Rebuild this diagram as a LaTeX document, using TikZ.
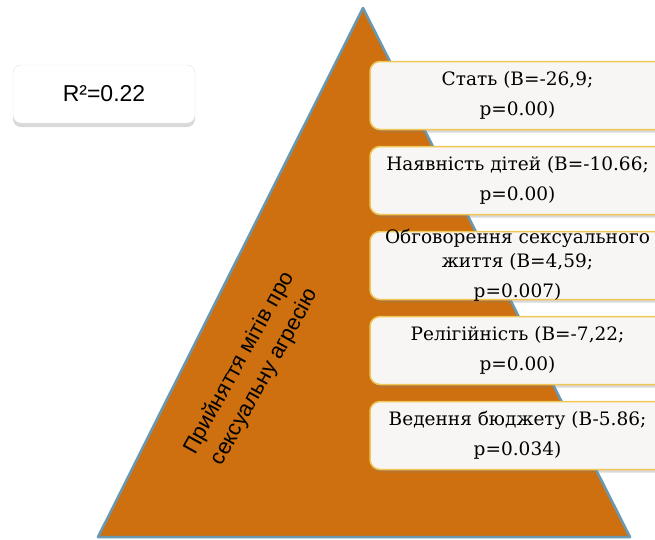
\documentclass[tikz,border=0pt]{standalone}
\usepackage{fontspec}
\setmainfont{DejaVu Serif}
\newfontfamily\arialfont{Liberation Sans}
\usetikzlibrary{positioning, shadows}
\definecolor{pyramidorange}{RGB}{206,112,16}
\definecolor{pyramidedge}{RGB}{104,152,178}
\definecolor{boxgold}{RGB}{240,198,84}
\definecolor{boxfill}{RGB}{247,246,244}

\begin{document}
\begin{tikzpicture}[x = 1pt, y = -1pt,
		pyramid/.style = {fill = pyramidorange, draw = pyramidedge, line width = 2.5pt, line join = round},
		infobox/.style = {draw = boxgold, line width = 1.5pt, fill = boxfill, rounded corners = 10pt, minimum width = 295pt, minimum height = 68pt, drop shadow = {shadow xshift = 1pt, shadow yshift = -3pt, opacity = 0.3}, align = center, font = \fontsize{18.5}{30}\selectfont},
		rsquare/.style = {draw = black!10, fill = white, rounded corners = 8pt, minimum width = 182pt, minimum height = 58pt, drop shadow = {shadow xshift = 0pt, shadow yshift = -4pt, opacity = 0.3}, font = \arialfont\fontsize{23}{27}\selectfont},
		sidetext/.style = {rotate = 61, align = center, font = \arialfont\fontsize{22}{29}\selectfont},
		node distance = 15.5pt]
		\useasboundingbox (0, 0) rectangle (655, 539);
		\clip (0, 0) rectangle (655, 539);
		\coordinate (apex) at (363, 8);
		\coordinate (baseright) at (630, 537);
		\coordinate (baseleft) at (98, 537);
		\filldraw[pyramid] (apex) -- (baseright) -- (baseleft) -- cycle;
		\node[rsquare] (rsq) at (104, 94) {R²=0.22};
		\node[sidetext] (myths) at (252, 370) {Прийняття мітів про\\ сексуальну агресію};
		\node[infobox] (stat) at (517.5, 95.5) {Стать (B=-26,9;\\ p=0.00)};
		\node[infobox, below = of stat] (dity) {Наявність дітей (B=-10.66;\\ p=0.00)};
		\node[infobox, below = of dity] (rozmova) {};
		\node[align = center, font = \fontsize{18.5}{24}\selectfont] (rozmovatext) at (rozmova) {Обговорення сексуального\\ життя (B=4,59;\\[6pt] p=0.007)};
		\node[infobox, below = of rozmova] (relig) {Релігійність (B=-7,22;\\ p=0.00)};
		\node[infobox, below = of relig] (budget) {Ведення бюджету (B-5.86;\\ p=0.034)};
		\end{tikzpicture}
\end{document}
